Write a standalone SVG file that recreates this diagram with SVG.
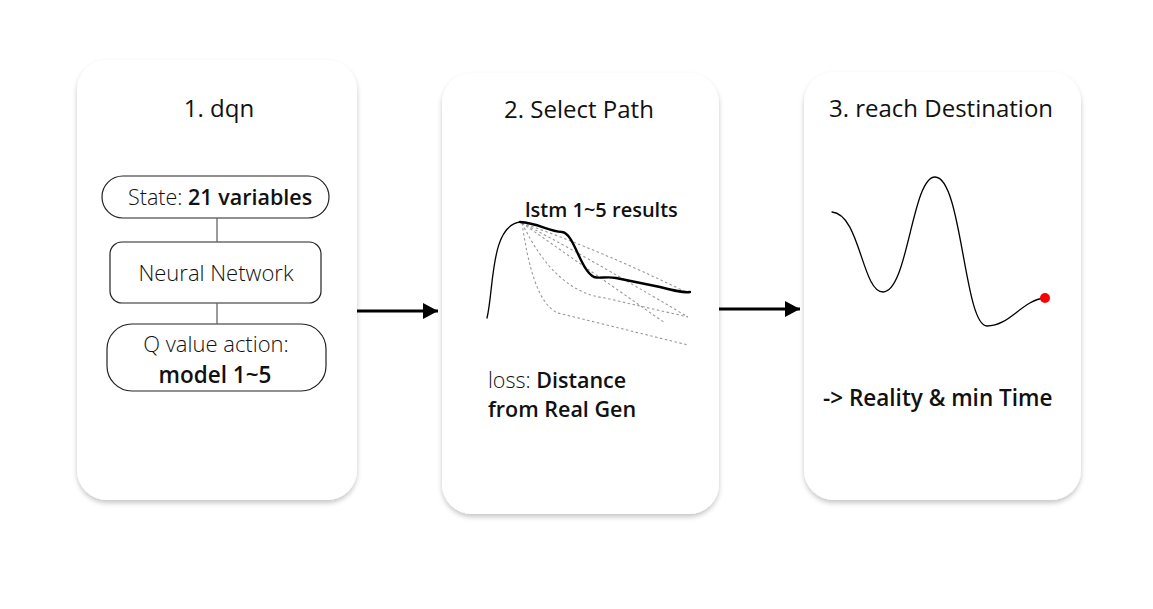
<svg xmlns="http://www.w3.org/2000/svg" width="1153" height="609" viewBox="0 0 1153 609">
<style>
  .card { fill: #ffffff; filter: url(#shadow); }
  .title { font-family: "Open Sans", "Noto Sans", sans-serif; font-size: 24px; fill: #111; text-anchor: middle; }
  .txt { font-family: "Open Sans", "Noto Sans", sans-serif; font-size: 21px; fill: #111; }
  .lt { font-weight: 300; }
  .bd { font-weight: 600; }
  .mid { text-anchor: middle; }
  .box { fill: #fff; stroke: #222; stroke-width: 1.2; }
  .link { stroke: #666; stroke-width: 1.3; fill: none; }
  .arrow { stroke: #000; stroke-width: 3; fill: none; }
  .dash { stroke: #999; stroke-width: 1.1; stroke-dasharray: 2.5 2.5; fill: none; }
  .curve { stroke: #000; fill: none; stroke-linecap: round; }
</style>
<defs>
  <filter id="shadow" x="-10%" y="-10%" width="120%" height="120%">
    <feDropShadow dx="0" dy="3" stdDeviation="2.5" flood-color="#000" flood-opacity="0.22"/>
  </filter>
  <marker id="head" markerUnits="userSpaceOnUse" markerWidth="16" markerHeight="17" refX="15" refY="8" orient="auto">
    <path d="M0,0 L15,8 L0,16 Z" fill="#000"/>
  </marker>
</defs>
<rect width="1153" height="609" fill="#ffffff"/>

<g id="card1">
  <rect class="card" x="77" y="60" width="280" height="440" rx="30"/>
  <text class="title" x="219" y="117">1. dqn</text>
  <g id="state">
    <rect class="box" x="102" y="176" width="227" height="42" rx="21"/>
    <text class="txt" x="128" y="205" style="font-size:21.5px"><tspan class="lt">State: </tspan><tspan class="bd">21 variables</tspan></text>
  </g>
  <g id="nn">
    <rect class="box" x="110" y="242" width="211" height="61" rx="12"/>
    <text class="txt lt mid" x="216" y="281" style="font-size:22px">Neural Network</text>
  </g>
  <g id="qvalue">
    <rect class="box" x="107" y="324" width="219" height="67" rx="25"/>
    <text class="txt lt mid" x="216" y="352" style="font-size:22px">Q value action:</text>
    <text class="txt bd mid" x="215" y="383" style="font-size:22.5px">model 1~5</text>
  </g>
  <g id="card1-links">
    <line class="link" x1="217" y1="218" x2="217" y2="242"/>
    <line class="link" x1="217" y1="303" x2="217" y2="324"/>
  </g>
</g>

<g id="card2">
  <rect class="card" x="442" y="73" width="277" height="441" rx="30"/>
  <text class="title" x="579" y="118">2. Select Path</text>
  <text class="txt bd" x="525" y="217" style="font-size:20px">lstm 1~5 results</text>
  <g id="paths">
    <path class="dash" d="M522,223 Q600,250 688,293"/>
    <path class="dash" d="M522,223 Q575,250 688,317"/>
    <path class="dash" d="M522,223 L665,323"/>
    <path class="dash" d="M522,223 Q555,292 605,298 L688,317"/>
    <path class="dash" d="M522,223 C528,265 538,305 558,313 L688,345"/>
    <path class="curve" stroke-width="1.3" d="M487,318 C494,290 490,224 521,222"/>
    <path class="curve" stroke-width="2.4" d="M520,222 C538,223 548,231 562,232 C574,233 580,270 594,277 C600,279 606,276 616,278 L660,287 C675,291 683,293 690,292"/>
  </g>
  <text class="txt" x="488" y="388" style="font-size:21.5px"><tspan class="lt">loss: </tspan><tspan class="bd">Distance</tspan></text>
  <text class="txt bd" x="488" y="417" style="font-size:21.5px">from Real Gen</text>
</g>

<g id="card3">
  <rect class="card" x="804" y="72" width="277" height="428" rx="30"/>
  <text class="title" x="941" y="117">3. reach Destination</text>
  <path class="curve" stroke="#333" stroke-width="1.3" d="M832,212 C860,214 862,292 883,292 C908,292 912,177 935,177 C962,177 964,326 987,326 C1010,326 1022,300 1045,298"/>
  <circle cx="1045" cy="298" r="5" fill="#ff0000"/>
  <text class="txt bd" x="823" y="406" style="font-size:22.5px">-&gt; Reality &amp; min Time</text>
</g>

<g id="connectors">
  <line class="arrow" x1="357" y1="311" x2="438" y2="311" marker-end="url(#head)"/>
  <line class="arrow" x1="719" y1="309" x2="800" y2="309" marker-end="url(#head)"/>
</g>
</svg>
